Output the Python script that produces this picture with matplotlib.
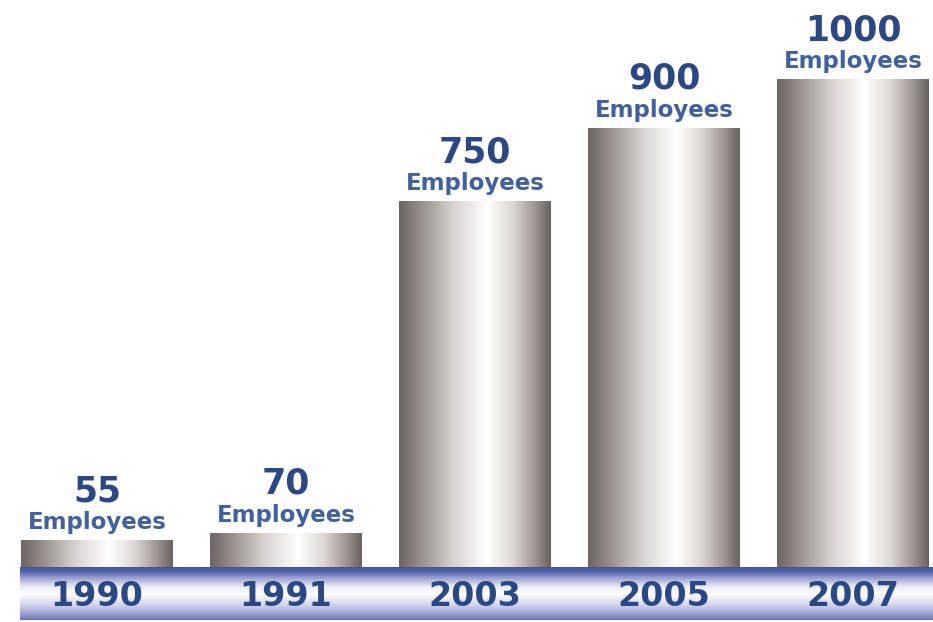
import numpy as np
import matplotlib.pyplot as plt
from matplotlib.colors import LinearSegmentedColormap

# data
years = ["1990", "1991", "2003", "2005", "2007"]
employees = [55, 70, 750, 900, 1000]

num_color = "#2c4884"
word_color = "#40619e"

# metallic look across each bar
metal = LinearSegmentedColormap.from_list("metal", [
    (0.00, "#6c6664"), (0.12, "#8f8884"), (0.35, "#d6d1ce"),
    (0.58, "#ffffff"), (0.75, "#ddd7d3"), (0.90, "#9c9490"), (1.00, "#696260")])
# blue base band, top to bottom
band = LinearSegmentedColormap.from_list("band", [
    (0.00, "#45539c"), (0.09, "#5565ad"), (0.18, "#8d95ca"), (0.36, "#e8e9f5"),
    (0.50, "#ffffff"), (0.72, "#d2d5ec"), (0.92, "#8e95cb"), (1.00, "#6670b6")])

fig = plt.figure(figsize=(9.33, 6.22), dpi=100)

# base band first, so the bar axes sits on top of it
bax = fig.add_axes([20 / 933, 2 / 622, 913 / 933, 53 / 622])
bax.imshow(np.linspace(0, 1, 256).reshape(-1, 1), cmap=band, aspect="auto",
           extent=[0, 1, 0, 1], interpolation="bicubic")
bax.axis("off")

ax = fig.add_axes([0, 0, 1, 1])
ax.patch.set_visible(False)

x = np.arange(len(years))
bars = ax.bar(x, employees, width=0.8, color="none", edgecolor="none")

grad = np.linspace(0, 1, 256).reshape(1, -1)
for b in bars:
    x0, w, h = b.get_x(), b.get_width(), b.get_height()
    im = ax.imshow(grad, cmap=metal, aspect="auto", extent=[x0, x0 + w, 0, h],
                   interpolation="bicubic", zorder=2)
    im.set_clip_path(b)

for xi, v in zip(x, employees):
    ax.annotate("Employees", (xi, v), xytext=(0, 8), textcoords="offset points",
                ha="center", va="baseline", fontsize=16.5, fontweight="bold",
                color=word_color)
    ax.annotate(str(v), (xi, v), xytext=(0, 28), textcoords="offset points",
                ha="center", va="baseline", fontsize=25, fontweight="bold",
                color=num_color)

for xi, yr in zip(x, years):
    ax.text(xi, 25 / 622, yr, transform=ax.get_xaxis_transform(), ha="center",
            va="center", fontsize=24, fontweight="bold", color=num_color, zorder=5)

ax.set_xlim(-97 / 189, 836 / 189)
ax.set_ylim(-55 / 0.488, 567 / 0.488)
ax.axis("off")

fig.savefig("out.png", dpi=100)
